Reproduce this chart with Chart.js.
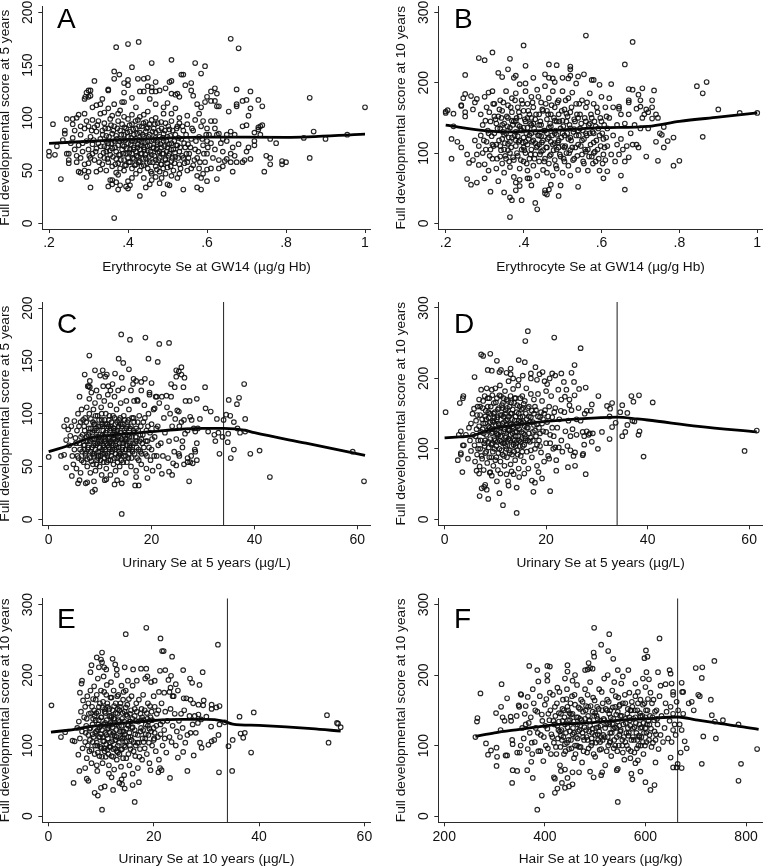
<!DOCTYPE html>
<html>
<head>
<meta charset="utf-8">
<script src="https://cdn.jsdelivr.net/npm/chart.js@4/dist/chart.umd.min.js"></script>
<style>
html, body { margin: 0; padding: 0; background: #fff; }
#page { position: relative; width: 768px; height: 866px; overflow: hidden; }
canvas { position: absolute; }
</style>
</head>
<body>
<div id="page"></div>
<script>
// points as [x, y]
const pointsA = [
[.37,167],[.40,170],[.427,172],[.66,175],[.68,166],[.46,152],[.51,155],[.57,152],[.595,149],[.41,148],[.365,144],[.378,141],[.365,137],[.40,136],[.425,137],[.44,137],[.45,138],[.535,141],[.54,141],[.585,142],[.56,133],[.51,135],[.505,134],[.39,133],[.40,131],[.47,134],[.315,135],[.295,124],[.30,126],[.305,126],[.292,120],[.30,120],[.305,121],[.29,118],[.35,126],[.35,127],[.335,118],[.365,113],[.385,115],[.39,115],[.39,124],[.43,125],[.44,125],[.45,130],[.46,129],[.46,125],[.47,125],[.48,126],[.495,128],[.51,123],[.52,122],[.525,123],[.53,120],[.545,131],[.56,126],[.565,121],[.61,125],[.62,128],[.625,123],[.61,116],[.62,116],[.625,111],[.63,111],[.655,106],[.675,127],[.70,117],[.71,125],[.69,116],[.675,113],[.675,111],[.73,117],[.74,111],[.71,109],[.705,102],[.69,92],[.70,93],[.73,91],[.735,92],[.74,93],[.72,86],[.73,89],[.735,84],[.71,61],[.705,72],[.72,74],[.72,78],[.70,68],[.76,80],[.775,76],[.75,64],[.76,62],[.76,56],[.79,59],[.79,56],[.80,58],[.745,49],[.845,81],[.87,87],[.90,80],[.955,84],[.86,119],[.86,62],[1,110],
[.23,42],[.305,34],[.355,41],[.35,35],[.36,41],[.36,37],[.37,39],[.375,32],[.38,36],[.395,35],[.40,33],[.40,40],[.405,36],[.43,26],[.445,34],[.455,37],[.49,28],[.50,37],[.505,36],[.54,32],[.575,34],[.585,32],[.59,47],[.585,43],[.60,40],[.575,45],[.625,42],[.665,49],[.365,5],
[.20,68],[.20,64],[.21,94],[.215,65],[.22,73],[.235,79],[.24,85],[.24,88],[.245,99],[.25,66],[.245,66],[.25,60],[.25,57],[.26,94],[.26,99],[.27,100],[.275,103],[.265,70],[.26,81],[.27,58],[.275,49],[.28,48],[.29,50],[.295,44],[.30,49],[.285,76],[.28,92],[.29,104],[.295,97],[.31,110],[.32,112],[.33,113],[.34,105],[.315,91],[.31,66],[.30,57],[.32,49],[.33,51],[.345,50],[.37,48],[.375,46],[.39,50],[.41,43],[.42,47],[.44,43],[.46,41],[.47,44],[.48,38],[.485,43],[.51,45],[.525,43],[.53,47],[.55,50],[.565,55],[.58,52],[.60,51],[.61,52],[.63,52],[.64,54],[.65,61],[.66,66],[.67,64],[.675,58],[.69,58],[.695,60],[.68,75],[.67,84],[.66,87],[.65,84],[.64,80],[.63,85],[.62,97],[.61,97],[.60,90],[.59,97],[.58,104],[.575,113],[.585,110],[.595,115],[.60,120],[.55,102],[.53,100],[.52,109],[.50,114],[.49,104],[.47,113],[.455,118],[.44,103],[.42,110],[.41,119],[.38,107],[.36,102],[.35,109],
[.30,70],[.305,82],[.31,75],[.315,60],[.32,87],[.32,71],[.325,97],[.33,64],[.33,80],[.335,88],[.335,56],[.34,73],[.34,95],[.34,62],[.345,83],[.345,68],[.35,58],[.35,76],[.35,90],[.355,99],[.355,65],[.36,71],[.36,85],[.36,54],[.365,78],[.365,92],[.37,61],[.37,68],[.37,83],[.375,74],[.375,97],[.375,57],[.38,88],[.38,65],[.38,52],[.385,79],[.385,70],[.385,94],[.39,60],[.39,84],[.39,73],[.395,66],[.395,90],[.395,55],[.40,76],[.40,99],[.40,62],[.40,82],[.405,70],[.405,87],[.405,58],[.41,94],[.41,66],[.41,78],[.41,52],[.415,84],[.415,72],[.415,61],[.42,90],[.42,68],[.42,56],[.42,80],[.425,75],[.425,98],[.425,63],[.43,86],[.43,70],[.43,50],[.43,59],[.435,92],[.435,77],[.435,66],[.44,82],[.44,55],[.44,72],[.445,96],[.445,62],[.445,87],[.45,69],[.45,78],[.45,52],[.45,91],[.455,58],[.455,74],[.455,84],[.46,65],[.46,98],[.46,47],[.465,79],[.465,71],[.465,90],[.47,60],[.47,86],[.47,54],[.475,75],[.475,67],[.475,95],[.48,82],[.48,49],[.48,62],[.485,90],[.485,72],[.485,56],[.49,78],[.49,66],[.49,85],[.495,60],[.495,95],[.495,47],[.50,72],[.50,82],[.50,53],[.505,66],[.505,89],[.51,76],[.51,59],[.51,97],[.515,70],[.515,50],[.52,84],[.52,63],[.525,92],[.525,74],[.53,56],[.53,68],[.535,80],[.54,88],[.54,62],[.545,72],[.55,58],[.55,94],[.555,66],[.56,80],[.56,52],[.565,88],[.57,70],[.575,62],[.58,82],[.585,92],[.59,74],[.595,58],[.60,66],[.605,84],[.61,76],[.615,62],[.62,70],[.625,84],[.63,60],[.635,76],[.64,68],[.645,59],[.65,78],[.66,58],[.665,72],
[.255,76],[.265,88],[.27,64],[.275,74],[.28,84],[.28,62],[.285,68],[.29,90],[.29,56],[.295,78],[.30,92],[.305,62],[.31,98],[.325,76],[.33,104],[.345,78],[.375,104],[.39,101],[.41,103],[.43,101],[.45,106],[.47,100],[.49,110],[.51,104],[.53,95],[.57,98],[.60,78],[.62,90],
[.302,64],[.308,88],[.313,79],[.318,68],[.322,93],[.327,58],[.331,73],[.336,84],[.338,67],[.342,90],[.347,72],[.348,61],[.352,82],[.354,69],[.357,93],[.358,76],[.362,63],[.363,88],[.367,72],[.368,56],[.372,80],[.373,90],[.377,65],[.378,78],[.382,60],[.383,84],[.386,74],[.388,66],[.391,91],[.392,55],[.393,79],[.397,71],[.398,86],[.402,58],[.403,67],[.404,93],[.407,75],[.408,81],[.412,62],[.413,89],[.414,70],[.417,55],[.418,78],[.419,97],[.422,64],[.423,85],[.424,72],[.427,58],[.428,92],[.429,79],[.432,66],[.433,74],[.434,54],[.437,84],[.438,61],[.439,95],[.442,70],[.443,77],[.444,65],[.447,90],[.448,57],[.449,73],[.452,82],[.453,63],[.454,94],[.457,68],[.458,49],[.459,78],[.462,87],[.463,58],[.464,72],[.467,64],[.468,94],[.469,81],[.472,70],[.473,51],[.474,77],[.477,60],[.478,88],[.479,68],[.482,75],[.483,56],[.484,96],[.487,66],[.488,81],[.489,52],[.492,73],[.493,88],[.494,61],[.497,78],[.498,68],[.499,57],[.502,92],[.503,64],[.504,75],[.507,83],[.508,54],[.509,70],[.512,62],[.513,88],[.517,78],[.518,57],[.519,67],[.522,74],[.523,90],[.527,62],[.528,81],[.532,72],[.533,52],[.537,64],[.538,92],[.542,76],[.543,57],[.547,84],[.548,66],[.552,75],[.553,62],[.558,72],[.562,90],[.568,60],[.572,78],[.578,68],[.582,58],[.588,80],[.592,66],[.598,84],[.602,72]
];
const pointsB = [
[.56,267],[.68,258],[.40,253],[.32,243],[.285,235],[.30,232],[.365,234],[.36,219],[.405,224],[.465,226],[.485,225],[.66,226],[.52,223],[.52,219],[.25,211],[.335,214],[.345,208],[.38,210],[.375,207],[.39,198],[.405,199],[.425,207],[.455,212],[.465,207],[.475,206],[.48,201],[.5,207],[.515,206],[.52,210],[.535,199],[.54,209],[.555,212],[.575,204],[.58,204],[.595,197],[.625,198],[.67,191],[.68,190],[.695,183],[.705,192],[.735,189],[.845,195],[.87,201],[.86,185],[.90,162],[.955,157],[1,157],[.86,123],[.785,82],[.80,89],[.745,89],[.785,122],[.77,117],[.76,108],[.755,126],[.75,128],[.74,116],[.715,95],[.76,137],[.745,150],[.74,155],[.73,149],[.73,165],[.73,175],[.715,162],[.72,158],[.70,175],[.70,166],[.69,163],[.67,172],[.67,175],[.645,166],[.645,163],[.215,120],[.205,161],[.2,159],[.2,157],[.22,156],[.215,92],[.22,138],[.23,116],[.24,108],[.24,167],[.24,168],[.245,178],[.25,184],[.25,158],[.25,152],[.265,181],[.27,162],[.275,172],[.28,177],
[.255,63],[.265,55],[.28,58],[.30,64],[.315,45],[.35,44],[.365,37],[.37,33],[.38,47],[.38,58],[.39,62],[.395,33],[.39,53],[.41,64],[.415,64],[.42,54],[.43,29],[.435,20],[.365,9],[.455,47],[.455,43],[.46,41],[.465,48],[.47,55],[.49,39],[.495,54],[.54,52],[.605,64],[.615,74],[.66,48],[.65,68],
[.26,86],[.255,98],[.27,90],[.275,118],[.28,98],[.285,83],[.285,110],[.29,155],[.29,125],[.295,140],[.295,100],[.30,180],[.30,84],[.305,165],[.305,116],[.31,186],[.31,75],[.315,105],[.315,145],[.32,188],[.32,92],[.325,170],[.325,128],[.33,112],[.33,78],[.335,152],[.335,60],[.34,135],[.34,95],[.34,175],[.345,120],[.345,85],[.345,160],[.35,142],[.35,105],[.35,72],[.355,188],[.355,128],[.355,92],[.36,168],[.36,113],[.36,150],[.365,80],[.365,136],[.365,100],[.37,178],[.37,122],[.37,158],[.375,90],[.375,145],[.375,66],[.38,110],[.38,185],[.38,130],[.385,96],[.385,165],[.385,140],[.39,118],[.39,78],[.39,152],[.395,105],[.395,175],[.395,132],[.40,88],[.40,160],[.40,122],[.405,145],[.405,100],[.405,188],[.41,112],[.41,170],[.41,75],[.41,136],[.415,92],[.415,155],[.415,125],[.42,105],[.42,180],[.42,140],[.425,82],[.425,118],[.425,165],[.43,148],[.43,98],[.43,130],[.435,68],[.435,190],[.435,110],[.44,155],[.44,88],[.44,125],[.445,172],[.445,102],[.445,140],[.45,76],[.45,118],[.45,160],[.455,92],[.455,195],[.455,132],[.46,148],[.46,108],[.46,72],[.465,178],[.465,122],[.465,85],[.47,155],[.47,98],[.47,138],[.475,188],[.475,112],[.475,68],[.48,165],[.48,128],[.48,90],[.485,145],[.485,105],[.485,78],[.49,175],[.49,118],[.49,155],[.495,95],[.495,135],[.5,188],[.5,110],[.5,72],[.505,162],[.505,125],[.505,88],[.51,145],[.51,100],[.515,178],[.515,120],[.515,82],[.52,158],[.52,135],[.52,68],[.525,108],[.525,186],[.53,148],[.53,92],[.535,125],[.535,170],[.54,112],[.54,76],[.545,155],[.545,135],[.55,98],[.55,175],[.555,120],[.555,85],[.56,165],[.56,145],[.565,105],[.565,75],[.57,185],[.57,128],[.575,95],[.575,150],[.58,115],[.58,170],[.585,138],[.585,88],[.59,158],[.59,105],[.595,125],[.595,75],[.60,180],[.60,145],[.605,98],[.605,120],[.61,165],[.61,90],[.615,135],[.615,110],[.62,178],[.62,150],[.625,98],[.63,125],[.63,165],[.635,88],[.64,112],[.64,140],[.645,98],[.65,120],[.65,155],[.655,105],[.66,142],[.66,88],[.665,110],[.67,155],[.67,94],[.675,128],[.68,112],[.685,140],[.69,112],[.695,108],[.70,135],[.705,150],[.71,155],[.72,135],
[.298,118],[.302,146],[.303,105],[.308,132],[.312,158],[.313,96],[.318,124],[.322,170],[.323,110],[.328,148],[.332,92],[.333,135],[.337,118],[.338,162],[.342,104],[.343,150],[.347,130],[.348,172],[.352,114],[.353,96],[.357,152],[.358,138],[.362,122],[.363,88],[.367,165],[.368,108],[.372,140],[.373,94],[.377,125],[.378,175],[.382,150],[.383,100],[.387,116],[.388,158],[.392,134],[.393,90],[.397,170],[.398,115],[.402,104],[.403,148],[.407,128],[.408,85],[.412,160],[.413,120],[.417,142],[.418,98],[.422,116],[.423,172],[.427,135],[.428,92],[.432,155],[.433,108],[.437,125],[.438,180],[.442,98],[.443,145],[.447,115],[.448,162],[.452,132],[.453,88],[.457,170],[.458,108],[.462,120],[.463,155],[.467,96],[.468,142],[.472,168],[.473,125],[.477,104],[.478,150],[.482,132],[.483,82],[.487,172],[.488,115],[.492,145],[.493,98],[.497,122],[.498,160],[.502,138],[.503,92],[.507,110],[.508,175],[.512,128],[.513,152],[.517,100],[.518,140],[.522,118],[.523,165],[.527,90],[.528,130],[.532,145],[.533,108],[.537,155],[.538,96],[.542,125],[.543,170],[.547,110],[.548,142],[.552,132],[.553,88],[.557,150],[.558,105],[.562,125],[.563,172],[.567,140],[.568,95],[.572,112],[.573,155],[.577,130],[.578,85],[.582,145],[.583,102],[.587,118],[.588,165],[.592,135],[.593,92],[.597,150],[.598,110],[.602,128],[.603,85],[.607,140],[.608,108],[.612,122],[.613,152],
[.31,128],[.33,142],[.35,126],[.36,104],[.37,146],[.38,118],[.39,138],[.40,108],[.41,150],[.42,128],[.43,114],[.44,140],[.45,104],[.46,128],[.47,116],[.48,146],[.49,108],[.50,128],[.51,156],[.52,104],[.53,134],[.54,150],[.55,118],[.56,102],[.57,142],[.58,128],[.32,112],[.34,110],[.36,132],[.38,146],[.40,136],[.42,150],[.44,112],[.46,160],[.48,114],[.50,146],[.52,122],[.54,132],[.56,128],[.58,100],[.325,152],[.345,140],[.365,116],[.385,124],[.405,116],[.425,142],[.445,124],[.465,136],[.485,126],[.505,108]
];
const pointsC = [
[14.1,175],[15.8,170],[18.8,172],[21.5,166],[23.4,167],[13.6,152],[19.4,152],[21.2,149],[14.5,148],[15.6,142],[7.9,155],[7,137],[9,141],[10,136],[10.5,141],[11,135],[11.3,137],[12.9,138],[14.2,134],[16.5,133],[17,131],[18.7,133],[18,130],[20,129],[8,131],[7.6,126],[7.8,126],[8,125],[25.8,144],[25.3,140],[25.8,137],[24.8,141],[24.8,135],[26.4,134],[23.8,128],[24.5,125],[26.2,125],[30.4,125],[28.8,114],[38,128],[35,113],[37,115],[36.6,109],[30.5,105],[31.5,102],[35.3,98],[32.7,95],[34.5,99],[29.4,95],[38.2,95],[36,92],[27.5,97],[27.8,94],[26.3,94],[34,94],[36.7,86],[37.2,82],[38.2,83],[32.2,80],[33,82],[33.8,78],[34.9,81],[32.4,74],[34.8,73],[33.2,62],[36,66],[35.4,58],[39.2,62],[41,65],[43,40],[59.1,64],[61.3,36],[0,59],[2.4,60],[3,61],[3.4,49],[4.5,41],[5.7,34],[6,37],[7.2,34],[7.5,35],[8.8,36],[8.5,26],[9,28],[14.2,5],[10.9,37],[11.2,38],[12.8,33],[13.3,37],[14.2,34],[16.8,32],[17.5,32],[17,40],[19.2,39],[22,43],[23.4,45],[24,42],[24.2,53],[24.8,51],[27.3,36],[26.3,52],[27,54],[27.5,54],[28,53],[28.8,56],[27,58],[27.7,60],[28.5,64],[28.4,66],[28.8,72],[26,74],[25.4,60],[25.3,62],[26.5,81],[28.5,83],[28.2,86],[29,86],[31,83],
[3,88],[3.4,75],[3.5,94],[3.8,85],[4,70],[4.2,79],[4.4,88],[4.6,60],[4.8,52],[5,93],[5,66],[5.2,77],[5.4,48],[5.5,84],[5.7,100],[5.8,58],[6,116],[6,72],[6.2,92],[6.2,44],[6.4,104],[6.5,64],[6.6,80],[6.8,54],[6.9,88],[7,70],[7.1,96],[7.2,60],[7.4,106],[7.4,78],[7.5,50],[7.6,66],[7.8,86],[7.9,114],[8,74],[8,58],[8.1,44],[8.2,95],[8.3,120],[8.4,68],[8.5,82],[8.6,52],[8.7,104],[8.8,62],[8.9,76],[9,90],[9,110],[9.1,46],[9.2,70],[9.3,122],[9.4,84],[9.4,56],[9.5,98],[9.6,64],[9.7,78],[9.8,116],[9.9,50],[10,88],[10,72],[10.1,60],[10.2,106],[10.3,94],[10.3,42],[10.4,66],[10.5,80],[10.6,126],[10.7,54],[10.8,112],[10.9,74],[11,90],[11,62],[11.1,100],[11.2,48],[11.3,84],[11.4,70],[11.5,118],[11.6,56],[11.7,94],[11.8,78],[11.9,66],[12,108],[12,42],[12.1,86],[12.2,60],[12.3,72],[12.4,128],[12.5,98],[12.6,52],[12.7,80],[12.8,116],[12.9,66],[13,90],[13,46],[13.1,74],[13.2,104],[13.3,58],[13.4,84],[13.5,122],[13.6,68],[13.7,94],[13.8,50],[13.9,78],[14,110],[14,62],[14.2,88],[14.3,72],[14.4,124],[14.5,54],[14.6,98],[14.8,82],[14.9,66],[15,44],[15.1,112],[15.2,76],[15.3,92],[15.5,58],[15.6,104],[15.7,70],[15.8,86],[16,50],[16,122],[16.2,78],[16.3,64],[16.5,96],[16.6,112],[16.8,72],[17,86],[17,46],[17.2,58],[17.3,112],[17.5,66],[17.6,98],[17.8,80],[18,52],[18,122],[18.2,72],[18.4,92],[18.6,108],[18.8,62],[19,84],[19,48],[19.2,74],[19.4,100],[19.6,118],[19.8,56],[20,90],[20,66],[20.2,46],[20.4,104],[20.6,78],[20.8,116],[21,60],[21.2,88],[21.4,50],[21.5,110],[21.8,72],[22,116],[22.2,60],[22.4,96],[22.6,82],[23,106],[23.2,58],[23.4,74],[23.8,116],[24,88],[24.4,64],[24.8,76],[25,103],[25.4,88],[25.8,92],[26,68],[26.6,112],[27,84],[27.4,112],[23.6,100],[24.6,95],[25.3,102],[22.9,117],[16.4,128],[17.2,113],[11.6,126],[12,122],[19.6,120],[20.6,105],[21,116],
[5.3,72],[5.6,60],[5.9,88],[6.1,66],[6.3,78],[6.4,56],[6.7,94],[6.8,70],[7,84],[7.1,62],[7.3,74],[7.3,92],[7.5,57],[7.7,80],[7.7,68],[7.9,100],[8.1,64],[8.2,86],[8.3,55],[8.4,76],[8.6,92],[8.7,70],[8.8,60],[8.9,84],[9.1,98],[9.1,66],[9.3,78],[9.3,52],[9.5,72],[9.6,88],[9.7,60],[9.8,94],[9.9,68],[10,80],[10.1,56],[10.2,74],[10.3,100],[10.4,62],[10.5,88],[10.6,70],[10.7,78],[10.8,58],[10.9,94],[11,66],[11.1,82],[11.2,72],[11.3,54],[11.4,90],[11.5,62],[11.6,76],[11.7,68],[11.8,98],[11.9,84],[12,56],[12.1,74],[12.2,92],[12.3,64],[12.4,80],[12.5,70],[12.6,86],[12.7,58],[12.8,96],[12.9,76],[13,62],[13.1,84],[13.2,68],[13.3,92],[13.4,54],[13.5,78],[13.6,88],[13.7,64],[13.8,72],[13.9,96],[14,82],[14.1,56],[14.2,76],[14.3,66],[14.4,90],[14.5,72],[14.6,60],[14.7,84],[14.8,94],[14.9,76],[15,66],[15.1,86],[15.2,54],[15.3,70],[15.4,80],[15.5,94],[15.6,62],[15.7,78],[15.8,68],[16,88],[16.1,58],[16.2,96],[16.4,72],[16.5,84],[16.7,62],[16.9,78],[17.1,68],[17.3,92],[17.5,56],[17.7,74],[17.9,88],[18.1,62],[18.3,80],[18.5,68],[18.7,96],[18.9,74],[19.1,60],[19.3,88],[19.5,68],[19.7,82],[20.1,76],[20.5,60],[20.9,86],[21.3,70],
[7,66],[7.6,74],[8,82],[8.5,62],[9,72],[9.2,86],[9.6,58],[10,64],[10.4,90],[10.8,68],[11,76],[11.4,60],[11.8,72],[12,88],[12.4,66],[12.8,84],[13,70],[13.4,76],[13.8,62],[14,90],[14.4,68],[14.8,74],[15,60],[15.4,88],[15.8,72],[16.2,66],[16.6,82],[17,74],[17.4,84],[17.8,64],[8.8,90],[9.8,74],[10.6,84],[11.6,88],[12.6,76],[13.6,60],[14.6,80],[15.6,66],[16.6,92],[18,76]
];
const pointsD = [
[16.4,267],[15.9,253],[21.6,258],[26.8,243],[7.2,234],[7.6,232],[9.0,235],[10.3,225],[14.6,226],[15.8,223],[17.9,216],[25.6,219],[5.9,202],[8.5,212],[9.3,211],[10.8,209],[11.1,212],[12.2,208],[13,206],[13,214],[13.5,200],[14.6,198],[15.4,204],[17,207],[17,200],[18.2,198],[18.7,206],[19.3,209],[19.7,196],[20.2,192],[20.7,200],[21.2,207],[21.8,204],[23,207],[23.5,195],[25,208],[25.5,195],[26.5,185],[27.8,187],[30.3,175],[33,165],[35,162],[36.8,175],[38.3,176],[37.2,167],[41,166],[34.6,152],[36,151],[32,161],[32.6,157],[29,163],[28,154],[28.8,154],[32.5,146],[31,124],[32.5,114],[33,131],[33.7,137],[35,118],[35.6,124],[36,134],[37,140],[37.4,139],[38.2,120],[38.4,125],[39.2,89],[59.1,97],[61.5,126],[0.2,152],[3,165],[3.6,172],[3.7,175],[2.6,84],[3.2,92],[3.2,94],[3.5,67],[3.6,105],[3.8,105],[2.8,120],[3.2,125],[6.3,69],[6.8,65],[6.9,33],[7.3,44],[7.8,46],[8,49],[8.3,42],[8.6,29],[9,67],[9.3,62],[10.3,54],[10.8,37],[11,65],[11.5,20],[12.2,64],[12.5,54],[12.6,48],[13.2,68],[13.6,64],[14.2,45],[14.2,9],[14.7,60],[15.7,65],[17.2,55],[17.5,39],[17.8,52],[18.5,67],[19.2,58],[20.8,40],[22,69],[24.3,74],[25.7,76],[27.8,64],[30.2,100],[27.2,91],[27.3,93],[28.6,122],[29,110],[29.2,122],[27.5,106],[25.7,95],[27.5,118],[24.8,98],[22.5,102],
[4.2,120],[4.6,86],[4.8,130],[5,112],[5.2,136],[5.2,97],[5.5,150],[5.6,120],[5.8,157],[5.9,105],[6,82],[6.2,140],[6.3,128],[6.4,92],[6.5,160],[6.6,112],[6.8,170],[6.9,75],[7,148],[7,100],[7.2,184],[7.2,124],[7.4,86],[7.5,158],[7.6,136],[7.7,70],[7.8,108],[7.9,175],[8,94],[8,146],[8.2,120],[8.3,186],[8.4,80],[8.5,160],[8.6,132],[8.7,102],[8.8,172],[8.9,66],[9,114],[9,150],[9.2,88],[9.3,184],[9.4,140],[9.5,124],[9.6,76],[9.7,165],[9.8,100],[9.9,152],[10,186],[10,112],[10.1,134],[10.2,88],[10.3,172],[10.4,145],[10.5,70],[10.6,120],[10.7,158],[10.8,100],[10.9,190],[11,130],[11,82],[11.1,175],[11.2,110],[11.3,148],[11.4,92],[11.5,165],[11.6,125],[11.7,138],[11.8,76],[11.9,182],[12,104],[12,155],[12.1,118],[12.2,170],[12.3,88],[12.4,142],[12.5,128],[12.6,196],[12.7,98],[12.8,160],[12.9,112],[13,78],[13,175],[13.1,135],[13.2,150],[13.3,92],[13.4,122],[13.5,185],[13.6,106],[13.7,165],[13.8,140],[13.9,84],[14,118],[14,172],[14.2,152],[14.3,98],[14.4,132],[14.5,190],[14.6,72],[14.7,112],[14.8,160],[14.9,145],[15,90],[15.2,124],[15.3,175],[15.4,104],[15.5,138],[15.6,82],[15.8,168],[15.9,115],[16,150],[16.1,186],[16.2,96],[16.4,130],[16.5,72],[16.6,160],[16.8,110],[17,145],[17,178],[17.2,88],[17.4,124],[17.6,170],[17.8,100],[18,155],[18.2,135],[18.2,76],[18.4,178],[18.6,112],[18.8,145],[19,95],[19.2,168],[19.4,125],[19.6,82],[19.8,155],[20,108],[20,182],[20.2,138],[20.4,90],[20.6,160],[20.8,120],[21,175],[21.2,145],[21.4,100],[21.5,118],[21.8,158],[22,84],[22.2,130],[22.4,184],[22.6,142],[23,112],[23,170],[23.2,96],[23.6,152],[23.8,125],[24,184],[24.2,104],[24.4,140],[24.6,170],[24.8,118],[25,155],[25.2,128],[25.6,176],[26,142],[26,120],[26.4,158],[26.8,140],[27.2,124],[27.6,150],[28,125],[28.4,120],[22.9,154],[23.7,174],[24.6,162],[25.4,90],[21.8,102],[20.6,86],
[6.1,118],[6.4,148],[6.6,100],[6.8,132],[7,160],[7.1,112],[7.3,90],[7.4,142],[7.6,168],[7.7,122],[7.9,104],[8,136],[8.1,154],[8.2,96],[8.4,126],[8.5,172],[8.6,110],[8.7,144],[8.8,88],[8.9,130],[9.1,160],[9.2,106],[9.3,122],[9.4,176],[9.5,96],[9.6,138],[9.7,150],[9.8,114],[9.9,128],[10,84],[10.1,166],[10.2,104],[10.3,142],[10.4,120],[10.5,156],[10.6,94],[10.7,134],[10.8,176],[10.9,112],[11,148],[11.1,124],[11.2,98],[11.3,162],[11.4,136],[11.5,108],[11.6,172],[11.7,90],[11.8,128],[11.9,150],[12,116],[12.1,140],[12.2,100],[12.3,158],[12.4,110],[12.5,168],[12.6,126],[12.7,146],[12.8,94],[12.9,134],[13,120],[13.1,166],[13.2,104],[13.3,142],[13.4,156],[13.5,114],[13.6,130],[13.7,96],[13.8,172],[13.9,124],[14,146],[14.1,108],[14.2,136],[14.3,162],[14.4,92],[14.5,118],[14.6,150],[14.7,128],[14.8,104],[14.9,172],[15,138],[15.1,114],[15.2,156],[15.3,96],[15.4,146],[15.5,122],[15.6,164],[15.7,106],[15.8,132],[16,112],[16.2,142],[16.4,158],[16.6,122],[16.8,138],[17,98],[17.2,154],[17.4,112],[17.6,134],[17.8,160],[18,118],[18.4,146],[18.8,104],[19.2,136],[19.6,150],[20,124],[20.4,146],[20.8,108],[21.2,130],[21.6,152],
[7.5,128],[8,112],[8.6,152],[9,138],[9.4,108],[9.8,144],[10.2,122],[10.6,136],[11,118],[11.4,158],[11.8,108],[12.2,134],[12.6,114],[13,150],[13.4,132],[13.8,112],[14.2,124],[14.6,140],[15,110],[15.4,158],[15.8,120],[16.2,130],[16.6,146],[17,116],[17.4,138],[17.8,126],[18.2,106],[18.6,130],[19,152],[19.4,142],[8.2,142],[9.2,128],[10.4,110],[11.6,146],[12.8,126],[14,104],[15.2,136],[16.4,112],[17.6,150],[18.8,122]
];
const pointsE = [
[14.7,258],[18.6,267],[21.3,252],[21.6,234],[21.9,234],[23.5,226],[32.2,243],[10.2,232],[9.2,225],[10,222],[10.2,218],[12.2,223],[12.7,215],[13,208],[14.5,211],[10.6,211],[9.6,211],[11,208],[16.1,208],[17.6,209],[18.6,209],[21.2,206],[22.2,207],[23.3,199],[25.6,207],[26.9,195],[27.3,189],[28.7,186],[29.3,204],[6.4,192],[6.3,188],[8,204],[8.2,214],[6,175],[0.6,157],[2.4,112],[3.2,119],[4.6,107],[5,106],[4.8,47],[5.7,87],[5.9,64],[7,68],[7.3,53],[7.6,50],[8.8,33],[9.4,29],[10,40],[10.7,42],[10.2,9],[12.3,37],[13.5,47],[13.9,52],[14,45],[14.5,39],[16,44],[16.4,20],[17.2,48],[12,55],[11.5,60],[9.3,64],[19.4,65],[20.9,62],[21.5,65],[21.2,68],[23.1,54],[26.4,64],[24.6,83],[25.6,91],[27.6,86],[28.8,104],[29.1,97],[30.4,101],[31.0,106],[31.5,108],[32.4,62],[32.3,115],[31.9,154],[32.5,156],[31,158],[31,152],[29.5,164],[29.4,157],[28.5,158],[27.5,160],[27,165],[26.2,167],[25.7,167],[34.9,64],[35,108],[34.2,99],[36.5,117],[37,111],[37.3,118],[38.5,90],[36.3,141],[39,147],[52.9,143],[53.2,104],[54.8,132],[55,131],[55.5,126],[33.5,133],[30.9,127],[32.5,130],[29,137],[30,141],[28.5,144],
[5.5,125],[5.8,134],[6,110],[6.2,148],[6.4,120],[6.5,96],[6.6,164],[6.8,140],[7,105],[7,155],[7.2,128],[7.3,82],[7.4,170],[7.6,115],[7.7,145],[7.8,92],[8,178],[8,125],[8.2,75],[8.3,155],[8.4,105],[8.5,138],[8.7,184],[8.8,88],[8.9,118],[9,165],[9.1,146],[9.2,72],[9.3,100],[9.4,195],[9.5,130],[9.6,155],[9.7,85],[9.8,112],[10,178],[10,140],[10.1,96],[10.2,122],[10.3,75],[10.4,162],[10.5,198],[10.6,106],[10.7,148],[10.8,132],[10.9,84],[11,172],[11,115],[11.1,186],[11.2,94],[11.3,155],[11.4,125],[11.5,72],[11.6,142],[11.7,104],[11.8,168],[11.9,190],[12,85],[12,130],[12.1,115],[12.2,150],[12.3,95],[12.4,178],[12.5,66],[12.6,138],[12.7,108],[12.8,160],[12.9,122],[13,80],[13,200],[13.1,145],[13.2,100],[13.3,172],[13.4,128],[13.5,88],[13.6,155],[13.7,112],[13.8,70],[13.9,185],[14,138],[14,95],[14.2,165],[14.3,120],[14.4,58],[14.5,148],[14.6,105],[14.7,178],[14.8,82],[15,130],[15,158],[15.1,192],[15.2,112],[15.4,72],[15.5,145],[15.6,95],[15.8,170],[15.9,125],[16,60],[16,185],[16.2,105],[16.4,152],[16.5,85],[16.6,135],[16.8,192],[17,115],[17,68],[17.2,165],[17.4,95],[17.5,145],[17.6,125],[17.8,80],[18,172],[18.1,105],[18.3,150],[18.4,195],[18.5,130],[18.7,88],[18.9,160],[19,115],[19.2,75],[19.4,140],[19.5,190],[19.7,100],[20,170],[20,125],[20.2,155],[20.4,92],[20.6,145],[20.8,112],[21,176],[21,80],[21.3,130],[21.5,160],[21.7,100],[22,175],[22,122],[22.2,148],[22.4,90],[22.6,135],[23,176],[23,112],[23.2,152],[23.4,105],[23.6,128],[23.8,170],[24,145],[24.2,100],[24.4,120],[24.6,178],[24.8,135],[25,112],[25.2,145],[25.5,125],[25.8,150],[26,104],[26.4,115],[26.8,142],[27,118],[27.4,130],[27.8,142],[28,118],[28.4,132],[23.2,182],[23.6,170],[24.2,187],[22.8,193],[20.2,192],[18.8,198],
[7.1,118],[7.3,138],[7.5,100],[7.6,160],[7.8,124],[7.9,108],[8.1,146],[8.2,94],[8.4,130],[8.5,166],[8.6,112],[8.7,150],[8.9,100],[9,136],[9.1,120],[9.2,172],[9.4,90],[9.5,148],[9.6,112],[9.7,126],[9.8,160],[9.9,98],[10,116],[10.1,140],[10.2,84],[10.3,154],[10.4,106],[10.5,130],[10.6,176],[10.7,92],[10.8,118],[10.9,146],[11,102],[11.1,136],[11.2,160],[11.3,110],[11.4,88],[11.5,128],[11.6,152],[11.7,118],[11.8,98],[11.9,142],[12,168],[12.1,106],[12.2,126],[12.3,84],[12.4,138],[12.5,156],[12.6,114],[12.7,96],[12.8,146],[12.9,130],[13,112],[13.1,170],[13.2,90],[13.3,136],[13.4,104],[13.5,150],[13.6,120],[13.7,160],[13.8,94],[13.9,128],[14,110],[14.1,146],[14.2,82],[14.3,176],[14.4,134],[14.5,116],[14.6,98],[14.7,154],[14.8,124],[14.9,106],[15,142],[15.2,88],[15.3,166],[15.4,118],[15.5,100],[15.6,134],[15.7,150],[15.8,108],[16,126],[16.2,92],[16.4,142],[16.5,116],[16.7,160],[16.9,104],[17.1,134],[17.3,84],[17.5,120],[17.7,152],[17.9,110],[18.1,136],[18.3,96],[18.5,116],[18.7,146],[18.9,128],[19.1,104],[19.3,156],[19.5,120],[19.7,136],[20.1,110],[20.5,128],[20.9,150],[21.3,116],[21.7,134],[22.1,110],
[8.4,116],[8.8,142],[9.2,104],[9.6,136],[10,128],[10.4,112],[10.8,152],[11.2,124],[11.6,98],[12,140],[12.4,118],[12.8,108],[13.2,152],[13.6,134],[14,120],[14.4,100],[14.8,144],[15.2,128],[15.6,112],[16,138],[16.4,122],[16.8,148],[17.2,104],[17.6,136],[18,122],[18.4,110],[18.8,138],[19.2,124],[19.6,148],[20,108],[9.4,122],[10.6,96],[11.8,132],[13,92],[14.2,112],[15.4,134],[16.6,100],[17.8,140],[19,134],[20.2,118]
];
const pointsF = [
[385,9],[394,29],[376,54],[420,33],[425,39],[418,55],[420,53],[434,47],[440,40],[448,42],[455,45],[432,64],[440,66],[445,54],[455,62],[468,62],[490,63],[497,55],[512,58],[514,62],[545,20],[543,65],[545,67],[572,60],[574,52],[600,48],[610,37],[618,44],[620,76],[590,63],[570,82],[580,75],[585,79],[655,69],[650,83],[664,74],[672,68],[662,69],[266,139],[265,134],[262,112],[272,174],[283,103],[287,87],[293,93],[304,71],[305,84],[304,97],[303,146],[312,122],[313,155],[314,187],[316,140],[320,135],[322,86],[325,86],[325,167],[333,135],[332,141],[335,108],[336,102],[336,65],[335,47],[345,64],[344,142],[348,157],[349,155],[350,90],[352,173],[353,172],[355,125],[360,145],[362,156],[365,65],[366,169],[373,77],[376,180],[369,213],[385,207],[387,191],[405,213],[405,200],[405,192],[410,212],[445,214],[445,205],[440,195],[455,192],[460,200],[480,207],[485,208],[487,217],[490,210],[495,209],[497,232],[498,226],[498,267],[512,243],[526,234],[528,258],[536,223],[525,200],[538,190],[545,207],[555,198],[566,207],[580,188],[595,195],[598,224],[601,235],[604,226],[602,204],[600,183],[607,194],[625,204],[628,252],[630,185],[640,187],[648,207],[650,202],[652,188],[655,176],[655,172],[662,162],[672,189],[673,176],[675,176],[686,160],[692,162],[696,150],[700,210],[705,172],[708,170],[712,196],[715,113],[713,211],[730,165],[732,143],[712,74],[737,220],[740,110],[738,134],[754,136],[785,130],[785,50],[790,74],[822,95],[682,96],[678,106],[672,122],[655,122],
[345,90],[352,100],[358,110],[362,130],[366,95],[370,118],[372,140],[375,88],[378,160],[380,105],[382,125],[385,148],[387,92],[390,170],[392,115],[395,135],[397,78],[400,158],[402,100],[405,124],[407,145],[410,175],[412,88],[415,112],[417,135],[420,155],[422,98],[425,182],[427,122],[430,72],[432,145],[434,108],[436,165],[438,88],[440,130],[442,118],[444,180],[446,150],[448,95],[450,136],[452,108],[454,170],[456,125],[458,82],[460,158],[462,112],[464,186],[466,140],[468,98],[470,128],[472,165],[474,76],[476,148],[478,108],[480,180],[482,122],[484,90],[486,155],[488,135],[490,190],[492,100],[494,118],[496,168],[498,142],[500,84],[502,125],[504,155],[506,108],[508,180],[510,135],[512,95],[514,150],[516,115],[518,195],[520,72],[522,130],[524,165],[526,100],[528,145],[530,118],[532,85],[534,178],[536,138],[538,108],[540,155],[542,125],[544,92],[546,168],[548,115],[550,142],[552,188],[554,100],[556,130],[558,80],[560,160],[562,118],[564,145],[566,95],[568,175],[570,128],[572,108],[574,155],[576,138],[578,90],[580,170],[582,118],[584,150],[586,100],[588,130],[590,165],[592,112],[594,142],[596,88],[598,160],[600,125],[602,105],[604,150],[606,135],[608,115],[610,175],[612,98],[614,140],[616,165],[618,120],[620,108],[622,150],[624,130],[626,95],[628,170],[630,115],[632,142],[635,105],[638,125],[640,160],[642,148],[645,110],[648,135],[650,155],[652,105],[655,145],[658,130],[660,115],[665,150],[668,130],[670,90],[675,145],
[430,120],[435,135],[440,102],[445,155],[450,120],[455,145],[460,100],[465,130],[470,152],[475,118],[480,138],[485,108],[490,128],[495,148],[500,115],[505,138],[510,105],[515,160],[520,125],[525,112],[530,150],[535,130],[540,100],[545,148],[550,120],[555,160],[560,105],[565,125],[570,150],[575,112],[580,140],[585,160],[590,125],[595,105],[600,140],
[368,132],[374,104],[381,150],[386,118],[391,92],[394,144],[398,112],[401,128],[403,166],[406,96],[409,136],[411,150],[413,116],[416,172],[418,104],[419,130],[421,142],[423,88],[424,160],[426,110],[428,134],[429,176],[431,98],[433,122],[435,152],[437,112],[439,140],[441,92],[443,166],[445,126],[447,108],[449,146],[451,160],[453,96],[455,116],[457,134],[459,172],[461,88],[463,140],[465,110],[467,154],[469,122],[471,98],[473,136],[475,162],[477,92],[479,126],[481,150],[483,112],[485,172],[487,96],[489,136],[491,156],[493,110],[495,124],[497,88],[499,164],[501,104],[503,142],[505,116],[507,152],[509,94],[511,128],[513,176],[515,108],[517,138],[519,112],[521,152],[523,92],[525,132],[527,162],[529,104],[531,140],[533,118],[535,154],[537,96],[539,126],[541,170],[543,112],[545,134],[547,100],[549,158],[551,122],[553,142],[555,90],[557,112],[559,172],[561,132],[563,100],[565,152],[567,118],[569,136],[571,92],[573,162],[575,124],[577,108],[579,150],[581,132],[583,96],[585,176],[587,114],[589,146],[591,100],[593,126],[595,158],[597,118],[599,100],[601,150],[603,130],[605,166],[607,108],[609,142],[611,124],[613,160],[615,104],[617,136],[619,148],[621,116],[623,138],
[425,128],[432,114],[438,150],[444,104],[452,144],[458,118],[464,100],[470,138],[476,112],[482,156],[488,120],[494,104],[500,146],[506,126],[512,112],[518,136],[524,150],[530,106],[536,124],[542,144],[548,128],[554,108],[560,138],[566,114],[572,150],[578,126],[584,108],[590,142],[596,132],[602,118],[428,146],[446,136],[466,120],[486,142],[508,120],[528,130],[548,156],[568,140],[588,112],[608,130]
];

// fitted curves
const curveAX = [.2,.4,.6,.8,1];
const curveAY = [75.8,79.5,81.8,81.5,84.6];
const curveBX = [.2,.3,.35,.4,.5,.6,.72,.8,.9,1];
const curveBY = [139.6,132,130,130.7,133,136,138,145,151,157];
const curveCX = [0,5,8,12,15,20,25,30,34,38,40,50,61.5];
const curveCY = [64,71.5,77,79.5,81,83,85,86,86,84.5,82,72,60.5];
const curveDX = [0,3,5,6.5,8,10,15,20,25,30,34,38,40,50,61.5];
const curveDY = [115.5,117,118,121,125,129,135,139,142,144,145,142.5,141,132,124];
const curveEX = [.5,5,8,12,15,20,25,30,33,35,40,50,55.5];
const curveEY = [119,123,127,130,132.5,135.5,137,137,135,130.5,128.5,124,120.5];
const curveFX = [262,300,350,400,450,500,550,600,665,700,750,790,825];
const curveFY = [113,118,123,128,131,133,136,138,140.5,136.5,131,127,123];

const seTicks = [.2,.4,.6,.8,1];
const urineTicks = [0,20,40,60];
const hairTicks = [200,400,600,800];
const score5Ticks = [0,50,100,150,200];
const score10Ticks = [0,100,200,300];

const fontName = '"Liberation Sans", Arial, sans-serif';
const ink = '#2b2b2b';

// letter in the corner of each panel
const letterPlugin = {
    id: 'letter',
    afterDraw(chart, args, opts) {
        const ctx = chart.ctx;
        ctx.save();
        ctx.fillStyle = '#000';
        ctx.font = '28px ' + fontName;
        ctx.fillText(opts.text, opts.x, opts.y);
        ctx.restore();
    }
};

function makePanel(p) {
    const canvas = document.createElement('canvas');
    canvas.width = 384;
    canvas.height = p.h;
    canvas.style.left = p.left + 'px';
    canvas.style.top = p.top + 'px';
    document.getElementById('page').append(canvas);

    const datasets = [
        {
            data: p.points.map(d => ({x: d[0], y: d[1]})),
            showLine: false,
            pointRadius: 2.3,
            pointBorderWidth: 1.15,
            pointBorderColor: 'rgba(15,15,15,0.9)',
            pointBackgroundColor: 'transparent'
        },
        {
            data: p.curveX.map((x, i) => ({x: x, y: p.curveY[i]})),
            showLine: true,
            pointRadius: 0,
            borderColor: '#000',
            borderWidth: 2.8,
            cubicInterpolationMode: 'monotone'
        }
    ];
    if (p.limit) {
        datasets.push({
            data: [{x: p.limit, y: p.yMin}, {x: p.limit, y: p.yMax}],
            showLine: true,
            pointRadius: 0,
            borderColor: p.limitColor,
            borderWidth: p.limitWidth
        });
    }

    const config = {
        type: 'scatter',
        data: {datasets: datasets},
        plugins: [letterPlugin],
        options: {
            responsive: false,
            animation: false,
            layout: {padding: {top: p.plotTop, right: p.plotRight, left: 0, bottom: 0}},
            plugins: {
                legend: {display: false},
                tooltip: {enabled: false},
                letter: {text: p.letter, x: p.letterX, y: p.letterY}
            },
            scales: {
                x: {
                    type: 'linear',
                    min: p.xMin,
                    max: p.xMax,
                    afterFit: s => { s.height = p.h - p.plotBottom; },
                    afterBuildTicks: s => { s.ticks = p.xTicks.map(v => ({value: v})); },
                    grid: {drawOnChartArea: false, tickLength: 4, tickColor: ink},
                    border: {color: ink, width: 1},
                    ticks: {
                        color: '#111',
                        padding: 2,
                        maxRotation: 0,
                        autoSkip: false,
                        font: {family: fontName, size: 14},
                        callback: v => String(v).replace(/^0\./, '.')
                    },
                    title: {
                        display: true,
                        text: p.xTitle,
                        color: '#111',
                        padding: {top: 0, bottom: p.xTitlePad},
                        font: {family: fontName, size: 13.7}
                    }
                },
                y: {
                    type: 'linear',
                    min: p.yMin,
                    max: p.yMax,
                    afterFit: s => { s.width = p.plotLeft; },
                    afterBuildTicks: s => { s.ticks = p.yTicks.map(v => ({value: v})); },
                    grid: {drawOnChartArea: false, tickLength: 4, tickColor: ink},
                    border: {color: ink, width: 1},
                    ticks: {
                        color: '#111',
                        padding: -2,
                        minRotation: 90,
                        maxRotation: 90,
                        crossAlign: 'center',
                        autoSkip: false,
                        font: {family: fontName, size: 14}
                    },
                    title: {
                        display: true,
                        text: p.yTitle,
                        color: '#111',
                        padding: {top: p.yTitlePad, bottom: 0},
                        font: {family: fontName, size: 13.7}
                    }
                }
            }
        }
    };
    new Chart(canvas.getContext('2d'), config);
}

const leftCol = {left: 0, plotLeft: 42.3, plotRight: 13.3, yTitlePad: -3, letterX: 57};
const rightCol = {left: 384, plotLeft: 54.3, plotRight: 1, yTitlePad: 9, letterX: 70};
const topRow = {top: 0, h: 290, plotTop: 5.3, plotBottom: 229, letterY: 28, xTitlePad: 15};
const midRow = {top: 290, h: 290, plotTop: 12, plotBottom: 235.3, letterY: 42.7, xTitlePad: 8.5};
const lowRow = {top: 580, h: 286, plotTop: 18.3, plotBottom: 242.3, letterY: 48, xTitlePad: -1.5};

makePanel({...leftCol, ...topRow, letter: 'A', points: pointsA, curveX: curveAX, curveY: curveAY,
    xMin: .183, xMax: 1.0144, yMin: -5.4, yMax: 205.7, xTicks: seTicks, yTicks: score5Ticks,
    xTitle: 'Erythrocyte Se at GW14 (µg/g Hb)', yTitle: 'Full developmental score at 5 years'});
makePanel({...rightCol, ...topRow, letter: 'B', points: pointsB, curveX: curveBX, curveY: curveBY,
    xMin: .181, xMax: 1.0144, yMin: -8, yMax: 308.5, xTicks: seTicks, yTicks: score10Ticks,
    xTitle: 'Erythrocyte Se at GW14 (µg/g Hb)', yTitle: 'Full developmental score at 10 years'});
makePanel({...leftCol, ...midRow, letter: 'C', points: pointsC, curveX: curveCX, curveY: curveCY,
    xMin: -1.24, xMax: 62.6, yMin: -5.7, yMax: 205.7, xTicks: urineTicks, yTicks: score5Ticks,
    limit: 34, limitColor: '#222', limitWidth: 1,
    xTitle: 'Urinary Se at 5 years (µg/L)', yTitle: 'Full developmental score at 5 years'});
makePanel({...rightCol, ...midRow, letter: 'D', points: pointsD, curveX: curveDX, curveY: curveDY,
    xMin: -1.24, xMax: 62.7, yMin: -8.5, yMax: 308.5, xTicks: urineTicks, yTicks: score10Ticks,
    limit: 34, limitColor: '#666', limitWidth: 1.5,
    xTitle: 'Urinary Se at 5 years (µg/L)', yTitle: 'Full developmental score at 10 years'});
makePanel({...leftCol, ...lowRow, letter: 'E', points: pointsE, curveX: curveEX, curveY: curveEY,
    xMin: -1.14, xMax: 61.2, yMin: -8.9, yMax: 308.9, xTicks: urineTicks, yTicks: score10Ticks,
    limit: 34, limitColor: '#222', limitWidth: 1,
    xTitle: 'Urinary Se at 10 years (µg/L)', yTitle: 'Full developmental score at 10 years'});
makePanel({...rightCol, ...lowRow, letter: 'F', points: pointsF, curveX: curveFX, curveY: curveFY,
    xMin: 188.2, xMax: 833.4, yMin: -8.9, yMax: 308.9, xTicks: hairTicks, yTicks: score10Ticks,
    limit: 664, limitColor: '#222', limitWidth: 1,
    xTitle: 'Hair Se at 10 years (µg/kg)', yTitle: 'Full developmental score at 10 years'});
</script>
</body>
</html>
